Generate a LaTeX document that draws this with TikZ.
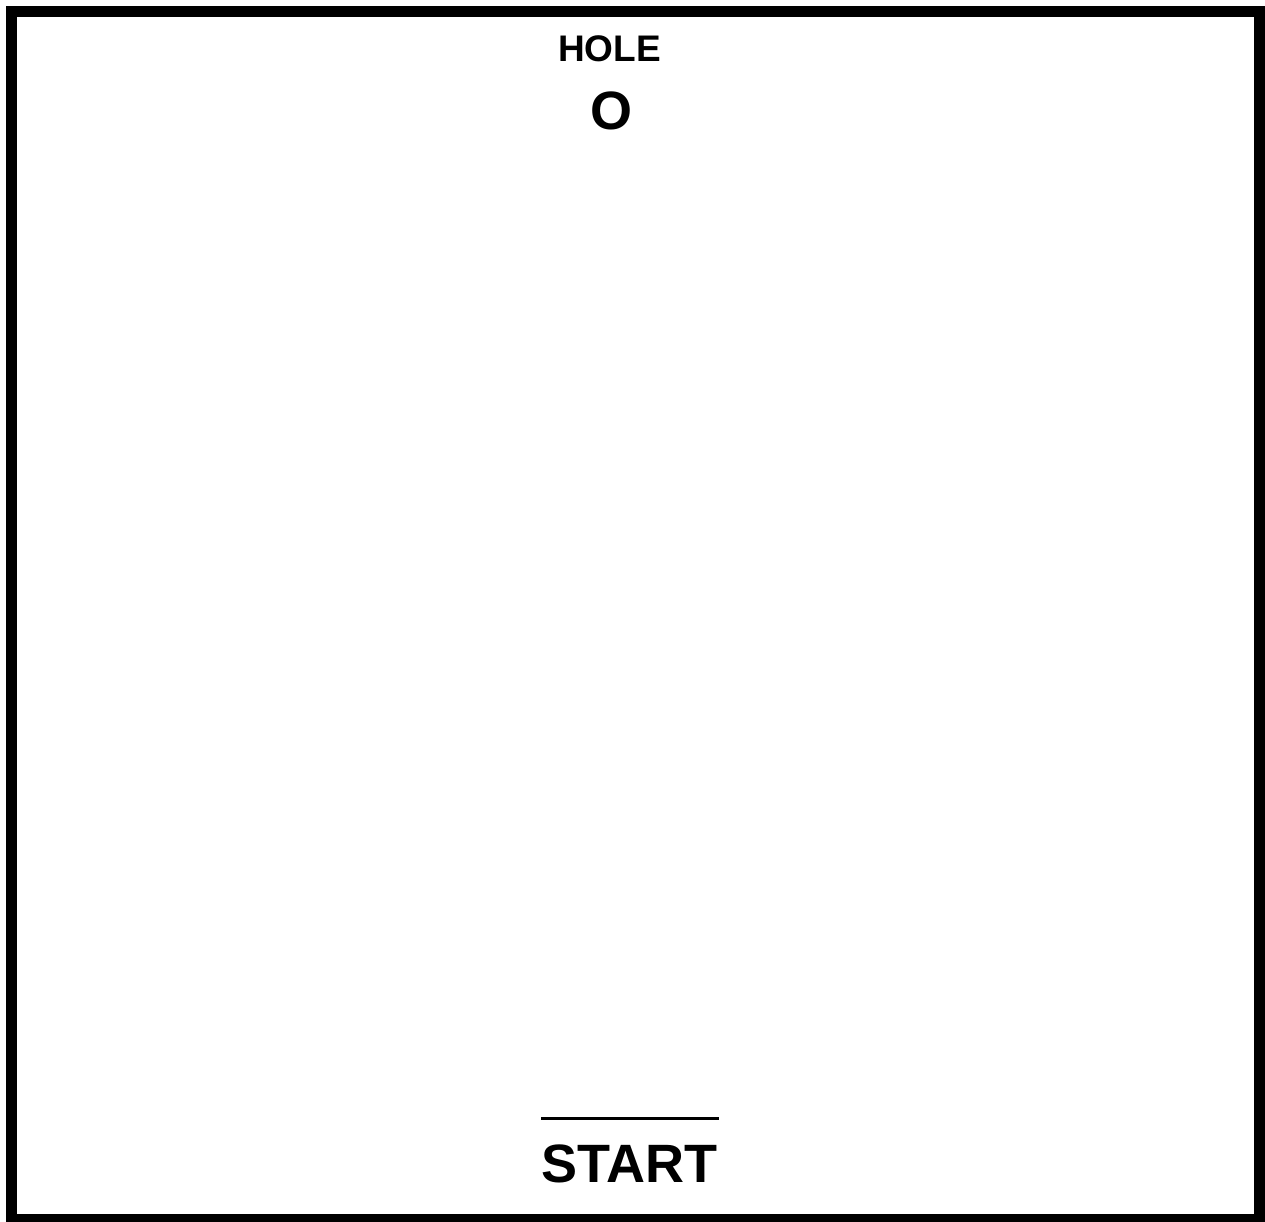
\documentclass[tikz,border=0pt]{standalone}
\usepackage{fontspec}
\setmainfont{Liberation Sans}
\begin{document}
\begin{tikzpicture}[x=1pt,y=1pt,
  lbl/.style={inner sep=0pt,anchor=base,font=\bfseries}]
\useasboundingbox (0,0) rectangle (1265,1222);
\draw[line width=11pt] (11.5,1210.5) rectangle (1259.5,2.5);
\node[lbl,font=\fontsize{37}{39}\selectfont\bfseries] (hole) at (609.5,1160) {HOLE};
\node[lbl,font=\fontsize{54}{56}\selectfont\bfseries] (o) at (611.5,1092) {O};
\node[lbl,font=\fontsize{54}{56}\selectfont\bfseries] (start) at (629.5,39) {START};
\coordinate (la) at (541,103);
\coordinate (lb) at (719,103);
\draw[line width=3pt] (la) -- (lb);
\end{tikzpicture}
\end{document}
